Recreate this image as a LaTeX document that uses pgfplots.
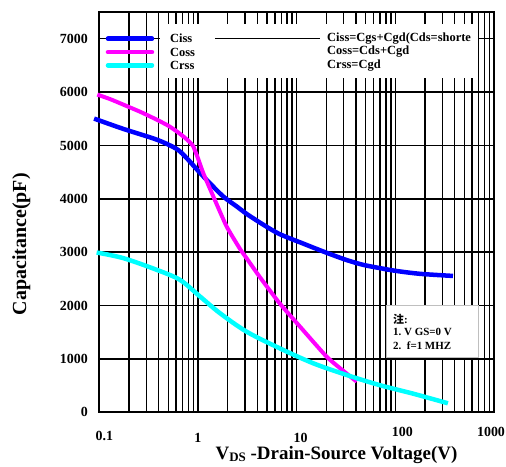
\documentclass[border=0pt]{standalone}
\usepackage{fontspec}
\setmainfont{Liberation Serif}
\newfontfamily\cjk{Noto Sans CJK SC}
\usepackage{pgfplots}
\pgfplotsset{compat=1.18}
\definecolor{cissblue}{RGB}{0,0,255}
\definecolor{cossmag}{RGB}{255,0,255}
\definecolor{crsscyan}{RGB}{0,255,255}

\begin{document}
\begin{tikzpicture}
  % page = 506 x 467 bp, axis box sits at (99.3, 54.7) from lower left
  \path[use as bounding box] (-99.3bp,-54.7bp) rectangle (406.7bp,412.3bp);
  \begin{axis}[
      scale only axis,
      width=394.7bp, height=400.3bp,
      xmode=log,
      xmin=0.1, xmax=1000,
      ymin=0, ymax=7500,
      clip=false,
      xtick={0.1,1,10,100,1000},
      xticklabels={{\raisebox{-2bp}{\hspace*{10bp}0.1}},
                   {\raisebox{-4bp}{1}},
                   {\raisebox{-4bp}{\hspace*{8bp}10}},
                   {\raisebox{2bp}{\hspace*{14bp}100}},
                   {\raisebox{2bp}{1000\hspace*{6bp}}}},
      ytick={0,1000,2000,3000,4000,5000,6000,7000},
      yticklabels={0,1000,2000,3000,4000,5000,6000,7000},
      xmajorgrids=true, xminorgrids=true, ymajorgrids=true,
      major grid style={black, line width=1.5bp},
      minor grid style={black, line width=1.5bp},
      major tick length=0pt, minor tick length=0pt,
      axis line style={black, line width=2bp},
      ticklabel style={font=\fontsize{14}{14}\selectfont\bfseries},
      xticklabel style={anchor=base, yshift=-26.4bp},
      yticklabel style={xshift=-8bp},
      xlabel={V{\fontsize{13}{13}\selectfont\raisebox{-2bp}{DS}} -Drain-Source Voltage(V)},
      ylabel={Capacitance(pF)},
      xlabel style={at={(rel axis cs:0.601,-0.1067)}, anchor=center,
                    font=\fontsize{19}{19}\selectfont\bfseries},
      ylabel style={at={(rel axis cs:-0.1976,0.42)}, anchor=center,
                    font=\fontsize{20}{20}\selectfont\bfseries},
    ]
    % Ciss
    \addplot[cissblue, line width=4.5bp, smooth] coordinates {
        (0.0886,5503) (0.175,5310) (0.381,5109) (0.607,4935) (0.77,4760)
        (0.97,4555) (1.22,4358) (1.80,4045) (2.47,3857) (3.1,3720)
        (4.6,3514) (6.7,3340) (11.7,3160) (18.6,3013) (31.6,2857)
        (47,2764) (70,2701) (101,2650) (177,2595) (384,2555)
      };
    % Coss
    \addplot[cossmag, line width=4bp, smooth, tension=0.3] coordinates {
        (0.0955,5953) (0.13,5865) (0.175,5765) (0.26,5630) (0.381,5484)
        (0.5,5370) (0.607,5265) (0.72,5160) (0.83,5058) (0.896,4983)
        (1.0,4760) (1.13,4484) (1.43,4045) (1.95,3482) (2.67,3060)
        (3.1,2890) (4.25,2530) (6.7,2045) (10.8,1606) (20.1,1043)
        (30,770) (40.6,574)
      };
    % Crss
    \addplot[crsscyan, line width=4.5bp, smooth] coordinates {
        (0.094,2994) (0.175,2889) (0.381,2670) (0.656,2482) (1.05,2169)
        (1.67,1857) (3.1,1512) (6.7,1201) (14.7,919) (32,700)
        (70,507) (151,350) (341,169)
      };

    % legend area
    \fill[white] (rel axis cs:0.154,0.835) rectangle (rel axis cs:0.959,0.970);
    \draw[black, line width=1.5bp] (rel axis cs:0.293,0.9333) -- (rel axis cs:0.559,0.9333);
    \draw[cissblue, line width=4.5bp, line cap=round] (rel axis cs:0.022,0.9333) -- (rel axis cs:0.1335,0.9333);
    \draw[cossmag, line width=4.5bp, line cap=round] (rel axis cs:0.022,0.9) -- (rel axis cs:0.1335,0.9);
    \draw[crsscyan, line width=4.5bp, line cap=round] (rel axis cs:0.022,0.8667) -- (rel axis cs:0.1335,0.8667);
    \begin{scope}[every node/.style={anchor=west, inner sep=0pt,
        font=\fontsize{12.5}{12.5}\selectfont\bfseries}]
      \node at (rel axis cs:0.179,0.9333) {Ciss};
      \node at (rel axis cs:0.179,0.9) {Coss};
      \node at (rel axis cs:0.179,0.8667) {Crss};
      \node at (rel axis cs:0.577,0.9333) {Ciss=Cgs+Cgd(Cds=shorte};
      \node at (rel axis cs:0.577,0.9) {Coss=Cds+Cgd};
      \node at (rel axis cs:0.577,0.8667) {Crss=Cgd};
    \end{scope}

    % notes
    \filldraw[fill=white, draw=gray!50, line width=0.6bp]
      (rel axis cs:0.726,0.138) rectangle (rel axis cs:0.959,0.268);
    \begin{scope}[every node/.style={anchor=west, inner sep=0pt,
        font=\fontsize{11}{11}\selectfont\bfseries}]
      \node at (rel axis cs:0.744,0.233) {{\cjk 注}:};
      \node at (rel axis cs:0.744,0.201) {1.\ V GS=0 V};
      \node at (rel axis cs:0.744,0.166) {2.\ \ f=1 MHZ};
    \end{scope}
  \end{axis}
\end{tikzpicture}
\end{document}
